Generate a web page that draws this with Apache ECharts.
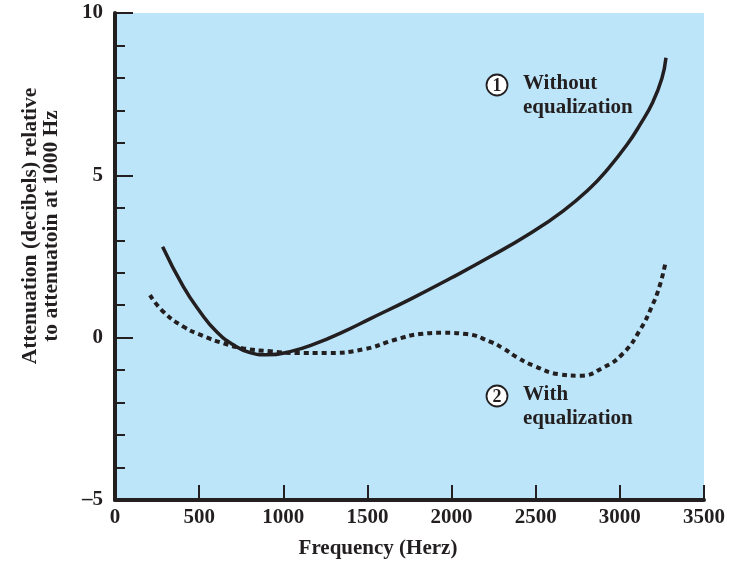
<!DOCTYPE html>
<html>
<head>
<meta charset="utf-8">
<script src="https://cdn.jsdelivr.net/npm/echarts@6/dist/echarts.min.js"></script>
<style>html,body{margin:0;padding:0;background:#fff;}#c{width:736px;height:561px;}</style>
</head>
<body>
<div id="c"></div>
<script>
var xTicks = [0, 500, 1000, 1500, 2000, 2500, 3000, 3500];
var yTicks = [-5, 0, 5, 10];
var solidFreq = [283, 406, 505, 604, 703, 802, 901, 1040, 1198, 1356, 1515, 1753, 1991, 2228, 2466, 2662, 2822, 2923, 3042, 3120, 3197, 3250, 3274];
var solidVal = [2.80, 1.57, 0.80, 0.18, -0.22, -0.46, -0.53, -0.43, -0.17, 0.18, 0.58, 1.18, 1.82, 2.49, 3.21, 3.90, 4.60, 5.16, 5.94, 6.56, 7.27, 7.99, 8.62];
var dashFreq = [208, 287, 406, 525, 644, 763, 921, 1080, 1258, 1476, 1674, 1812, 1951, 2090, 2228, 2307, 2387, 2486, 2644, 2763, 2902, 3020, 3120, 3189, 3238, 3272];
var dashVal = [1.31, 0.80, 0.34, 0.05, -0.17, -0.33, -0.42, -0.47, -0.47, -0.36, -0.05, 0.11, 0.15, 0.11, -0.12, -0.33, -0.60, -0.86, -1.13, -1.17, -0.92, -0.48, 0.24, 0.95, 1.62, 2.34];
var xTitle = 'Frequency (Herz)';
var yTitle = ['Attenuation (decibels) relative', 'to attenuatoin at 1000 Hz'];
var label1 = ['Without', 'equalization'];
var label2 = ['With', 'equalization'];

var ink = '#231f20';
var serif = '"Liberation Serif", "DejaVu Serif", serif';
function pairs(xs, ys) { return xs.map(function (x, i) { return [x, ys[i]]; }); }

var chart = echarts.init(document.getElementById('c'));
var opt = {
  animation: false,
  grid: { left: 115, right: 32, top: 13, bottom: 61, show: true, backgroundColor: '#bce5f9', borderWidth: 0 },
  xAxis: {
    type: 'value', min: xTicks[0], max: xTicks[xTicks.length - 1], interval: 500,
    axisLine: { show: true, onZero: false, lineStyle: { color: ink, width: 4 } },
    axisTick: { show: true, inside: true, length: 15, lineStyle: { color: ink, width: 2 } },
    splitLine: { show: false },
    axisLabel: { color: ink, fontFamily: serif, fontWeight: 'bold', fontSize: 21, margin: 7,
      formatter: function (v) { return String(v); } }
  },
  yAxis: {
    type: 'value', min: yTicks[0], max: yTicks[yTicks.length - 1], interval: 5,
    axisLine: { show: true, onZero: false, lineStyle: { color: ink, width: 4 } },
    axisTick: { show: true, inside: true, length: 18, lineStyle: { color: ink, width: 2 } },
    minorTick: { show: true, splitNumber: 5, length: 10, lineStyle: { color: ink, width: 2 } },
    splitLine: { show: false },
    axisLabel: { color: ink, fontFamily: serif, fontWeight: 'bold', fontSize: 21, margin: 12,
      formatter: function (v) { return v < 0 ? '\u2013' + Math.abs(v) : String(v); } }
  },
  series: [
    { type: 'line', data: pairs(solidFreq, solidVal), smooth: 0.5, showSymbol: false,
      lineStyle: { color: ink, width: 3.5 } },
    { type: 'line', data: pairs(dashFreq, dashVal), smooth: 0.5, showSymbol: false,
      lineStyle: { color: ink, width: 4, type: [5, 4] } }
  ],
  graphic: [
    { type: 'text', x: 378, y: 549, style: { text: xTitle, fill: ink, font: 'bold 21px ' + serif, textAlign: 'center', textVerticalAlign: 'middle' } },
    { type: 'text', x: 30, y: 226, rotation: Math.PI / 2, style: { text: yTitle[0], fill: ink, font: 'bold 21.5px ' + serif, textAlign: 'center', textVerticalAlign: 'middle' } },
    { type: 'text', x: 51, y: 226, rotation: Math.PI / 2, style: { text: yTitle[1], fill: ink, font: 'bold 21.5px ' + serif, textAlign: 'center', textVerticalAlign: 'middle' } },
    { type: 'circle', shape: { cx: 497, cy: 85, r: 10.5 }, style: { fill: '#fff', stroke: ink, lineWidth: 1.8 } },
    { type: 'text', x: 497, y: 86, style: { text: '1', fill: ink, font: 'bold 18px ' + serif, textAlign: 'center', textVerticalAlign: 'middle' } },
    { type: 'text', x: 523, y: 84, style: { text: label1[0], fill: ink, font: 'bold 21px ' + serif, textAlign: 'left', textVerticalAlign: 'middle' } },
    { type: 'text', x: 523, y: 108, style: { text: label1[1], fill: ink, font: 'bold 21px ' + serif, textAlign: 'left', textVerticalAlign: 'middle' } },
    { type: 'circle', shape: { cx: 497, cy: 396, r: 10.5 }, style: { fill: '#fff', stroke: ink, lineWidth: 1.8 } },
    { type: 'text', x: 497, y: 397, style: { text: '2', fill: ink, font: 'bold 18px ' + serif, textAlign: 'center', textVerticalAlign: 'middle' } },
    { type: 'text', x: 523, y: 395, style: { text: label2[0], fill: ink, font: 'bold 21px ' + serif, textAlign: 'left', textVerticalAlign: 'middle' } },
    { type: 'text', x: 523, y: 419, style: { text: label2[1], fill: ink, font: 'bold 21px ' + serif, textAlign: 'left', textVerticalAlign: 'middle' } }
  ]
};
chart.setOption(opt);
</script>
</body>
</html>
